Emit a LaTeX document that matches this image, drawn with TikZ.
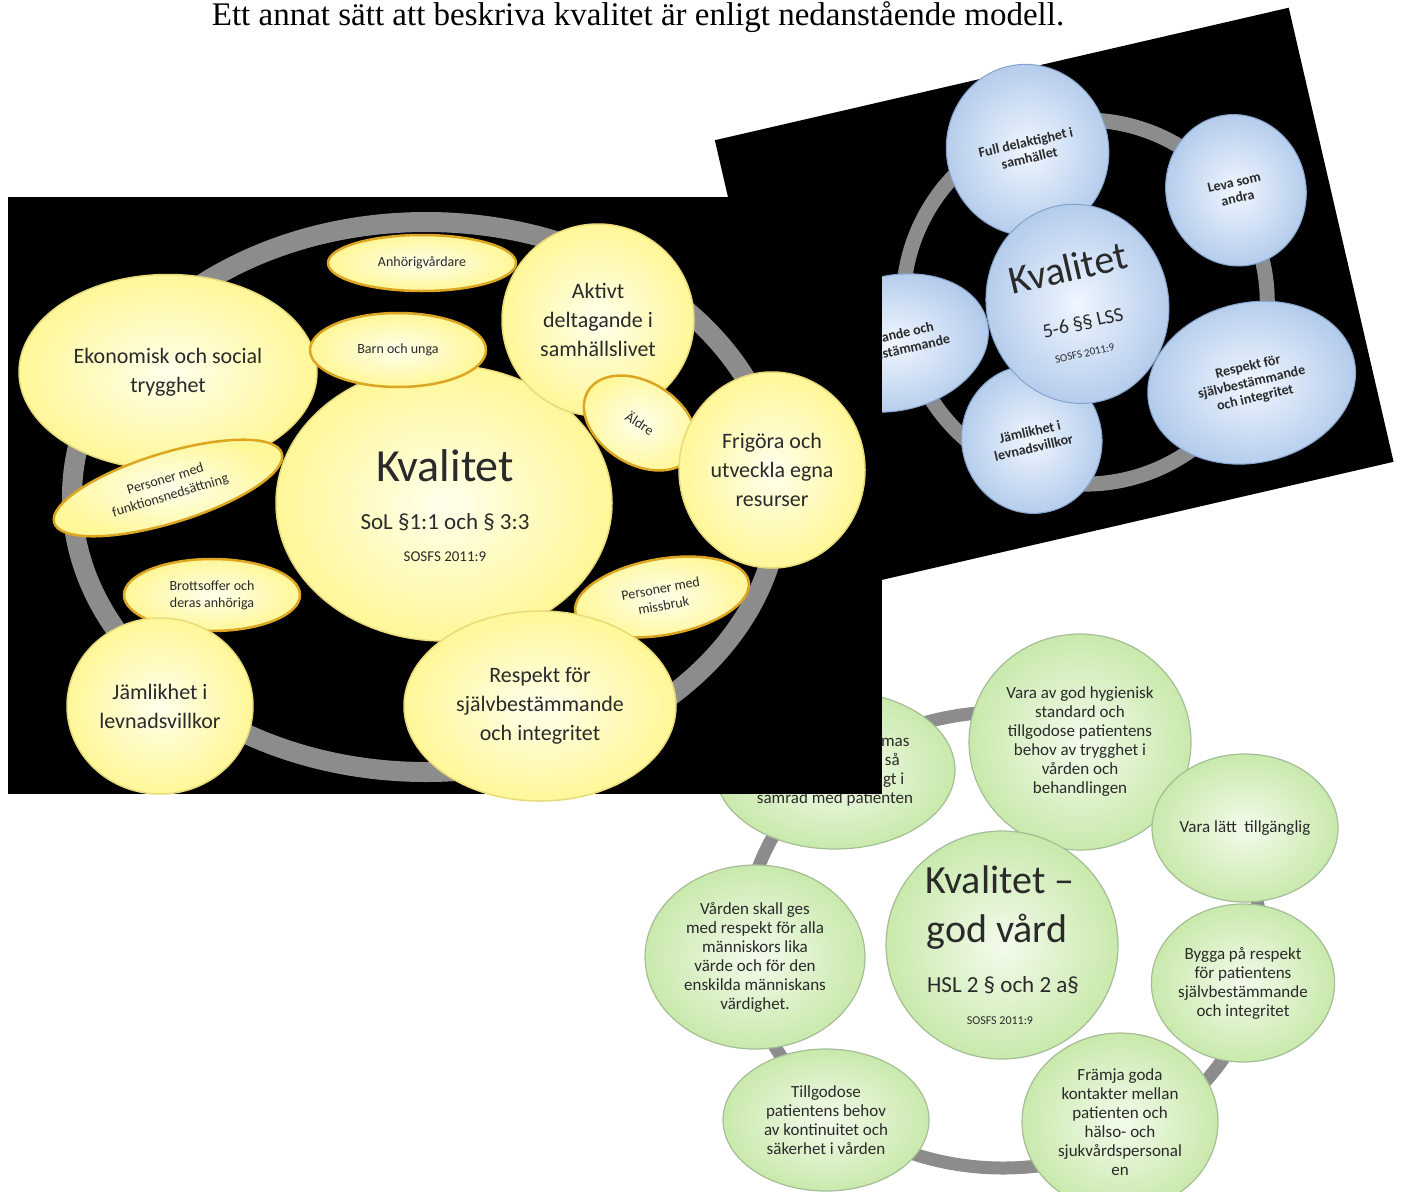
\documentclass[tikz,border=0pt]{standalone}
\usepackage{fontspec}
\setmainfont{Carlito}
\newfontfamily\capfont{Liberation Serif}
\usetikzlibrary{shapes.geometric}

\definecolor{ringgray}{HTML}{8C8C8C}
\definecolor{txt}{HTML}{2A2A2A}
\definecolor{ylwin}{HTML}{FFFFEC}
\definecolor{ylwout}{HTML}{FFF798}
\definecolor{ylwrim}{HTML}{EADB7A}
\definecolor{ylwedge}{HTML}{DDA622}
\definecolor{bluin}{HTML}{F0F6FF}
\definecolor{bluout}{HTML}{AFC9EA}
\definecolor{bluedge}{HTML}{86A3CC}
\definecolor{grnin}{HTML}{F3FBEC}
\definecolor{grnout}{HTML}{C9E9AC}
\definecolor{grnedge}{HTML}{A5BD95}

\tikzset{
  bub/.style={ellipse, inner sep=0pt, align=center, text=txt},
  ybub/.style={bub, inner color=ylwin, outer color=ylwout, draw=ylwrim, line width=1.5pt,
    font=\fontsize{22}{29}\selectfont},
  ysmall/.style={bub, inner color=ylwin, outer color=ylwout, draw=ylwedge, line width=2.5pt,
    font=\fontsize{14}{17}\selectfont},
  bbub/.style={bub, inner color=bluin, outer color=bluout, draw=bluedge, line width=1pt,
    font=\bfseries\fontsize{14}{16}\selectfont},
  gbub/.style={bub, inner color=grnin, outer color=grnout, draw=grnedge, line width=1.2pt,
    font=\fontsize{17}{19}\selectfont},
  ring/.style={draw=ringgray}
}

\begin{document}
\begin{tikzpicture}[x=1pt,y=-1pt]
\useasboundingbox (0,0) rectangle (1404,1191);
\clip (0,0) rectangle (1404,1191);

\node[font=\capfont\fontsize{33}{36}\selectfont, anchor=base, inner sep=0pt] (cap) at (638,25)
  {Ett annat sätt att beskriva kvalitet är enligt nedanstående modell.};

% god vard (HSL)
\draw[ring, line width=13pt] (1003,940) ellipse (258pt and 228pt);
\node[gbub, minimum width=240pt, minimum height=158pt] (samr) at (835,770)
  {Vården skall utformas\\och genomföras så\\långt det är möjligt i\\samråd med patienten};
\node[gbub, minimum width=222pt, minimum height=216pt] (hyg) at (1080,742)
  {Vara av god hygienisk\\standard och\\tillgodose patientens\\behov av trygghet i\\vården och\\behandlingen};
\node[gbub, minimum width=186pt, minimum height=148pt] (latt) at (1245,828) {Vara lätt~~tillgänglig};
\node[gbub, minimum width=174pt, minimum height=158pt] (bygg) at (1243,983)
  {Bygga på respekt\\för patientens\\självbestämmande\\och integritet};
\node[gbub, minimum width=196pt, minimum height=178pt] (framja) at (1120,1122)
  {Främja goda\\kontakter mellan\\patienten och\\hälso- och\\sjukvårdspersonal\\en};
\node[gbub, minimum width=206pt, minimum height=142pt] (tillg) at (826,1120)
  {Tillgodose\\patientens behov\\av kontinuitet och\\säkerhet i vården};
\node[gbub, minimum width=220pt, minimum height=184pt] (varden) at (755,957)
  {Vården skall ges\\med respekt för alla\\människors lika\\värde och för den\\enskilda människans\\värdighet.};
\node[gbub, minimum width=232pt, minimum height=228pt] (kvg) at (1002,945) {};
\node[text=txt, font=\fontsize{40}{42}\selectfont] (kvg1) at (1000,880) {Kvalitet –};
\node[text=txt, font=\fontsize{40}{42}\selectfont] (kvg2) at (997,932) {god vård};
\node[text=txt, font=\fontsize{23}{25}\selectfont] (kvg3) at (1003,985) {HSL 2 § och 2 a§};
\node[text=txt, font=\fontsize{12}{14}\selectfont] (kvg4) at (1000,1021) {SOSFS 2011:9};

% LSS
\begin{scope}[shift={(1054.2,301)}, rotate=13, transform shape]
\fill[black] (-294.5,-233) rectangle (294.5,233);
\draw[ring, line width=15pt] (30,8) circle (182pt);
\node[bbub, minimum width=162pt, minimum height=172pt] (full) at (8,-153) {Full delaktighet i\\samhället};
\node[bbub, minimum width=140pt, minimum height=152pt] (leva) at (202,-67) {Leva som\\andra};
\node[bbub, minimum width=210pt, minimum height=160pt] (respb) at (174,124)
  {Respekt för\\självbestämmande\\och integritet};
\node[bbub, minimum width=140pt, minimum height=148pt] (jamb) at (-53,130) {Jämlikhet i\\levnadsvillkor};
\node[bbub, minimum width=190pt, minimum height=135pt] (infl) at (-165,5) {Inflytande och\\medbestämmande};
\node[bbub, minimum width=182pt, minimum height=200pt] (kvb) at (22,8) {};
\node[text=txt, font=\fontsize{40}{42}\selectfont] (kvb1) at (21,-29) {Kvalitet};
\node[text=txt, font=\fontsize{20}{22}\selectfont] (kvb2) at (23,28) {5-6 §§ LSS};
\node[text=txt, font=\fontsize{11}{13}\selectfont] (kvb3) at (18,58) {SOSFS 2011:9};
\end{scope}

% SoL
\fill[black] (8,197) rectangle (882,794);
\draw[ring, line width=20pt] (426,497) ellipse (354pt and 275pt);
\node[ybub, minimum width=336pt, minimum height=276pt] (kvy) at (444,503) {};
\node[text=txt, font=\fontsize{46}{48}\selectfont] (kvy1) at (445,466) {Kvalitet};
\node[text=txt, font=\fontsize{23}{25}\selectfont] (kvy2) at (445,522) {SoL §1:1 och § 3:3};
\node[text=txt, font=\fontsize{15}{17}\selectfont] (kvy3) at (445,557) {SOSFS 2011:9};
\node[ybub, minimum width=298pt, minimum height=195pt] (eko) at (168,372) {Ekonomisk och social\\trygghet};
\node[ysmall, minimum width=188pt, minimum height=56pt] (anh) at (422,263) {Anhörigvårdare};
\node[ysmall, minimum width=176pt, minimum height=74pt] (barn) at (398,350) {Barn och unga};
\node[ybub, minimum width=192pt, minimum height=192pt] (akt) at (598,320) {Aktivt\\deltagande i\\samhällslivet};
\node[ysmall, minimum width=122pt, minimum height=82pt, rotate=-32] (aldre) at (640,423) {Äldre};
\node[ybub, minimum width=186pt, minimum height=196pt] (frig) at (772,470) {Frigöra och\\utveckla egna\\resurser};
\node[ysmall, minimum width=238pt, minimum height=70pt, rotate=17] (pfunk) at (168,488)
  {Personer med\\funktionsnedsättning};
\node[ysmall, minimum width=176pt, minimum height=72pt] (brott) at (212,595) {Brottsoffer och\\deras anhöriga};
\node[ysmall, minimum width=176pt, minimum height=76pt, rotate=10] (miss) at (662,597) {Personer med\\missbruk};
\node[ybub, minimum width=186pt, minimum height=176pt] (jaml) at (160,706) {Jämlikhet i\\levnadsvillkor};
\node[ybub, minimum width=272pt, minimum height=190pt] (resp) at (540,706)
  {Respekt för\\självbestämmande\\och integritet};
\end{tikzpicture}
\end{document}
